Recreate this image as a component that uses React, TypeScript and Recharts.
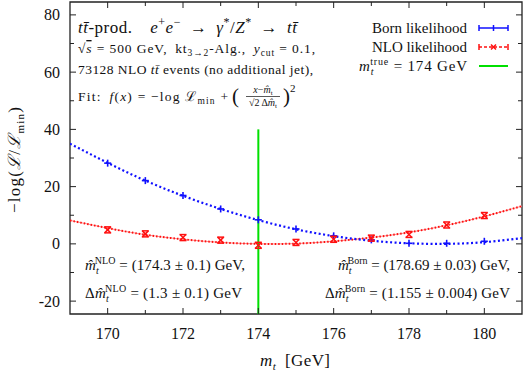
import React from 'react'
import {
  ComposedChart,
  Line,
  Scatter,
  XAxis,
  YAxis,
  ReferenceLine,
  ReferenceArea,
} from 'recharts'

// fit curves at each GeV
const fitMass = [169, 170, 171, 172, 173, 174, 175, 176, 177, 178, 179, 180, 181]
const bornFit = [35.0, 28.3, 22.1, 16.8, 12.2, 8.3, 5.1, 2.7, 1.1, 0.2, 0.0, 0.6, 2.0]
const nloFit = [8.2, 5.5, 3.2, 1.6, 0.5, 0.0, 0.1, 0.9, 2.2, 4.0, 6.5, 9.6, 13.2]

// measured likelihood points
const pointMass = [170, 171, 172, 173, 174, 175, 176, 177, 178, 179, 180]
const bornPoints = [28.2, 22.1, 16.9, 12.2, 8.4, 5.2, 2.8, 1.4, 0.2, 0.2, 0.9]
const nloPoints = [4.9, 3.5, 2.2, 1.3, -0.5, 0.5, 1.6, 2.0, 3.3, 6.6, 9.9]

const xTicks = [170, 171, 172, 173, 174, 175, 176, 177, 178, 179, 180]
const yTicks = [-20, -10, 0, 10, 20, 30, 40, 50, 60, 70, 80]
const trueMass = 174
const trueLineTop = 40

const W = 523
const H = 371
const PL = 70
const PR = 522
const PT = 2
const PB = 314
const FONT = '"Liberation Serif", "DejaVu Serif", serif'
const BLUE = '#1010ff'
const RED = '#ff1010'
const GREEN = '#00e000'

const fitData = fitMass.map((x, i) => ({ x, born: bornFit[i], nlo: nloFit[i] }))
const bornData = pointMass.map((x, i) => ({ x, y: bornPoints[i] }))
const nloData = pointMass.map((x, i) => ({ x, y: nloPoints[i] }))

function XTick(props: any) {
  const { x, payload } = props
  const v = payload.value
  const major = v % 2 === 0
  const len = major ? 6 : 4
  return (
    <g>
      <line x1={x} y1={PB} x2={x} y2={PB - len} stroke="#222" />
      <line x1={x} y1={PT} x2={x} y2={PT + len} stroke="#222" />
      {major && (
        <text x={x} y={PB + 25} textAnchor="middle" fontSize={16} fontFamily={FONT} fill="#111">
          {v}
        </text>
      )}
    </g>
  )
}

function YTick(props: any) {
  const { y, payload } = props
  const v = payload.value
  const major = v % 20 === 0
  const len = major ? 6 : 4
  return (
    <g>
      <line x1={PL} y1={y} x2={PL + len} y2={y} stroke="#222" />
      <line x1={PR} y1={y} x2={PR - len} y2={y} stroke="#222" />
      {major && (
        <text x={PL - 10} y={y + 5.5} textAnchor="end" fontSize={16} fontFamily={FONT} fill="#111">
          {v}
        </text>
      )}
    </g>
  )
}

function BornMark(props: any) {
  const { cx, cy } = props
  return (
    <g stroke={BLUE} strokeWidth={1.6}>
      <line x1={cx - 3.5} y1={cy} x2={cx + 3.5} y2={cy} />
      <line x1={cx} y1={cy - 3.5} x2={cx} y2={cy + 3.5} />
    </g>
  )
}

function NloMark(props: any) {
  const { cx, cy } = props
  return (
    <g stroke={RED} strokeWidth={1.5}>
      <line x1={cx - 3} y1={cy - 3} x2={cx + 3} y2={cy + 3} />
      <line x1={cx - 3} y1={cy + 3} x2={cx + 3} y2={cy - 3} />
      <line x1={cx - 3.5} y1={cy - 3} x2={cx + 3.5} y2={cy - 3} />
      <line x1={cx - 3.5} y1={cy + 3} x2={cx + 3.5} y2={cy + 3} />
    </g>
  )
}

const I = ({ children }: { children: React.ReactNode }) => (
  <tspan fontStyle="italic">{children}</tspan>
)

const SP = '\u2002'

function Labels() {
  const base = { fontFamily: FONT, fill: '#111', lengthAdjust: 'spacing' as const }
  return (
    <svg width={W} height={H} style={{ position: 'absolute', left: 0, top: 0, pointerEvents: 'none' }}>
      {/* top-left description */}
      <text x={78} y={33} fontSize={17} textLength={219} {...base}>
        <I>tt̄</I>-prod.{SP}{SP}<I>e</I>
        <tspan dy={-7} fontSize={12}>+</tspan>
        <tspan dy={7}><I>e</I></tspan>
        <tspan dy={-7} fontSize={12}>−</tspan>
        <tspan dy={7}>{SP}→{SP}<I>γ</I></tspan>
        <tspan dy={-7} fontSize={12}>*</tspan>
        <tspan dy={7}>/<I>Z</I></tspan>
        <tspan dy={-7} fontSize={12}>*</tspan>
        <tspan dy={7}>{SP}→{SP}<I>tt̄</I></tspan>
      </text>
      <text x={78} y={53} fontSize={13.5} textLength={237} {...base}>
        √<tspan textDecoration="overline"><I>s</I></tspan> = 500 GeV,{SP}kt
        <tspan dy={3} fontSize={9.5}>3→2</tspan>
        <tspan dy={-3}>-Alg.,{SP}<I>y</I></tspan>
        <tspan dy={3} fontSize={9.5}>cut</tspan>
        <tspan dy={-3}> = 0.1,</tspan>
      </text>
      <text x={78} y={74} fontSize={13.5} textLength={235} {...base}>
        73128 NLO <I>tt̄</I> events (no additional jet),
      </text>
      <text x={78} y={101} fontSize={13.5} textLength={150} {...base}>
        Fit:{SP}<I>f</I>(<I>x</I>) = −log ℒ
        <tspan dy={3} fontSize={9.5}>min</tspan>
        <tspan dy={-3}> +</tspan>
      </text>
      <text x={232} y={103} fontSize={21} {...base}>(</text>
      <text x={263} y={93} fontSize={10} textAnchor="middle" {...base}>
        <I>x</I>−<I>m̂</I><tspan dy={2} fontSize={7}>t</tspan>
      </text>
      <line x1={246} y1={96.5} x2={280} y2={96.5} stroke="#111" strokeWidth={0.7} />
      <text x={263} y={106} fontSize={10} textAnchor="middle" {...base}>
        √2 Δ<I>m̂</I><tspan dy={2} fontSize={7}>t</tspan>
      </text>
      <text x={283} y={103} fontSize={21} {...base}>
        )<tspan dy={-11} fontSize={11}>2</tspan>
      </text>

      {/* legend */}
      <text x={372} y={33} fontSize={15} textLength={95} {...base}>Born likelihood</text>
      <g stroke={BLUE} strokeWidth={1.5}>
        <line x1={479} y1={28} x2={508} y2={28} />
        <line x1={479} y1={25} x2={479} y2={31} />
        <line x1={508} y1={25} x2={508} y2={31} />
        <line x1={493.5} y1={25} x2={493.5} y2={31} />
      </g>
      <text x={372} y={52} fontSize={15} textLength={95} {...base}>NLO likelihood</text>
      <g stroke={RED} strokeWidth={1.5}>
        <line x1={479} y1={47} x2={508} y2={47} strokeDasharray="3 2" />
        <line x1={479} y1={44} x2={479} y2={50} />
        <line x1={508} y1={44} x2={508} y2={50} />
        <line x1={491} y1={44.5} x2={496} y2={49.5} />
        <line x1={491} y1={49.5} x2={496} y2={44.5} />
      </g>
      <text x={359} y={71} fontSize={15} textLength={108} {...base}>
        <I>m</I>
        <tspan dy={4} fontSize={10}><I>t</I></tspan>
        <tspan dy={-10} dx={-4} fontSize={10}>true</tspan>
        <tspan dy={6}> = 174 GeV</tspan>
      </text>
      <line x1={479} y1={66} x2={508} y2={66} stroke={GREEN} strokeWidth={2} />

      {/* fit results */}
      <text x={85} y={270} fontSize={15} textLength={160} {...base}>
        <I>m̂</I>
        <tspan dy={4} fontSize={10}><I>t</I></tspan>
        <tspan dy={-10} dx={-4} fontSize={10}>NLO</tspan>
        <tspan dy={6}> = (174.3 ± 0.1) GeV,</tspan>
      </text>
      <text x={85} y={298} fontSize={15} textLength={157} {...base}>
        Δ<I>m̂</I>
        <tspan dy={4} fontSize={10}><I>t</I></tspan>
        <tspan dy={-10} dx={-4} fontSize={10}>NLO</tspan>
        <tspan dy={6}> = (1.3 ± 0.1) GeV</tspan>
      </text>
      <text x={338} y={270} fontSize={15} textLength={172} {...base}>
        <I>m̂</I>
        <tspan dy={4} fontSize={10}><I>t</I></tspan>
        <tspan dy={-10} dx={-4} fontSize={10}>Born</tspan>
        <tspan dy={6}> = (178.69 ± 0.03) GeV,</tspan>
      </text>
      <text x={325} y={298} fontSize={15} textLength={185} {...base}>
        Δ<I>m̂</I>
        <tspan dy={4} fontSize={10}><I>t</I></tspan>
        <tspan dy={-10} dx={-4} fontSize={10}>Born</tspan>
        <tspan dy={6}> = (1.155 ± 0.004) GeV</tspan>
      </text>

      {/* axis titles */}
      <text x={260} y={366} fontSize={17} textLength={70} {...base}>
        <I>m</I><tspan dy={4} fontSize={11}><I>t</I></tspan>
        <tspan dy={-4}>{SP}[GeV]</tspan>
      </text>
      <text
        x={-53}
        y={0}
        fontSize={17}
        textLength={106}
        transform="translate(20 160) rotate(-90)"
        {...base}
      >
        −log(<I>ℒ</I>/<I>ℒ</I>
        <tspan dy={4} fontSize={11}>min</tspan>
        <tspan dy={-4}>)</tspan>
      </text>
    </svg>
  )
}

export default function App() {
  return (
    <div style={{ position: 'absolute', left: 0, top: 0, width: W, height: H, background: '#fff' }}>
      <ComposedChart
        width={W}
        height={H}
        data={fitData}
        margin={{ top: PT, right: W - PR, left: 0, bottom: 0 }}
      >
        <XAxis
          dataKey="x"
          type="number"
          domain={[169, 181]}
          ticks={xTicks}
          interval={0}
          height={H - PB}
          axisLine={false}
          tickLine={false}
          tick={<XTick />}
          allowDataOverflow
        />
        <YAxis
          type="number"
          domain={[-24.5, 84.5]}
          ticks={yTicks}
          interval={0}
          width={PL}
          axisLine={false}
          tickLine={false}
          tick={<YTick />}
          allowDataOverflow
        />
        <ReferenceArea
          x1={169}
          x2={181}
          y1={-24.5}
          y2={84.5}
          fill="none"
          stroke="#222"
          strokeWidth={1.3}
          ifOverflow="visible"
        />
        <Line
          dataKey="nlo"
          type="natural"
          stroke="#ff9090"
          strokeWidth={1}
          dot={false}
          isAnimationActive={false}
        />
        <Line
          dataKey="nlo"
          type="natural"
          stroke={RED}
          strokeWidth={2}
          strokeDasharray="1.5 2"
          dot={false}
          isAnimationActive={false}
        />
        <Line
          dataKey="born"
          type="natural"
          stroke={BLUE}
          strokeWidth={2.2}
          strokeDasharray="2 2.5"
          dot={false}
          isAnimationActive={false}
        />
        <ReferenceLine
          segment={[
            { x: trueMass, y: -24.5 },
            { x: trueMass, y: trueLineTop },
          ]}
          stroke={GREEN}
          strokeWidth={2}
        />
        <Scatter data={bornData} dataKey="y" shape={<BornMark />} isAnimationActive={false} />
        <Scatter data={nloData} dataKey="y" shape={<NloMark />} isAnimationActive={false} />
      </ComposedChart>
      <Labels />
    </div>
  )
}
